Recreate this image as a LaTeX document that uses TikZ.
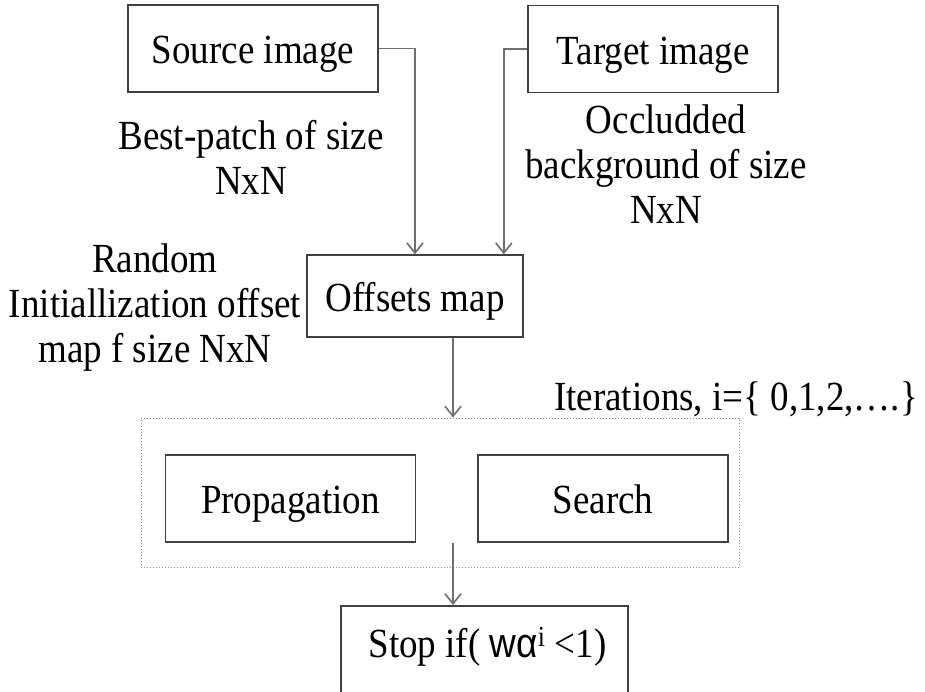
\documentclass[tikz,border=0pt]{standalone}
\usepackage{fontspec}
\setmainfont{Liberation Serif}
\newfontfamily\sansalt{Liberation Sans}
\usetikzlibrary{arrows.meta}
\definecolor{boxline}{HTML}{404040}
\definecolor{conline}{HTML}{6E6E6E}
\definecolor{dotline}{HTML}{8C8C8C}
\newcommand{\vst}[1]{\scalebox{1}[1.12]{#1}}
\begin{document}
\begin{tikzpicture}[x=1pt,y=-1pt,
  every node/.style={font=\fontsize{37}{45}\selectfont, inner sep=0pt},
  box/.style={draw=boxline, line width=1.6pt, minimum width=250pt, minimum height=87pt, text height=38pt, text depth=8pt},
  conn/.style={draw=conline, line width=1.6pt},
  arr/.style={conn, -{Straight Barb[length=10pt,width=16pt]}},
  lbl/.style={align=center}]
\useasboundingbox (0,0) rectangle (925,691);
\clip (0,0) rectangle (925,691);
\fill[white] (0,0) rectangle (925,691);

% boxes
\node[box] (src) at (253,48.5) {\vst{Source image}};
\node[box] (tgt) at (653,49) {\vst{Target image}};
\node[box, minimum width=216pt, minimum height=82pt] (off) at (415,296) {\vst{Offsets map}};
\node[draw=dotline, dotted, line width=1pt, minimum width=598pt, minimum height=149pt] (iter) at (440,492.5) {};
\node[box] (prop) at (290.5,498.5) {\vst{Propagation}};
\node[box] (srch) at (603,498.5) {\vst{Search}};
\node[box, minimum width=287pt, minimum height=110pt, anchor=north] (stop) at (484.5,605) {};
\node[anchor=base] (stoptxt) at (487.5,657) {\vst{Stop if( {\sansalt wα}\textsuperscript{i} <1)}};

% labels
\node[lbl] (bp) at (251,157) {\vst{Best-patch of size}\\\vst{NxN}};
\node[lbl] (occ) at (666,164.5) {\vst{Occludded}\\\vst{background of size}\\\vst{NxN}};
\node[lbl] (rnd) at (155,308) {\vst{Random}\\\vst{Initiallization offset}\\\vst{map f size NxN}};
\node[anchor=base] (itl) at (736,410) {\vst{Iterations, i=\{ 0,1,2,….\}}};

% connectors
\draw[arr] (src.east) -| (off.north);
\draw[arr] (tgt.west) -| ([xshift=-20pt]off.north east);
\draw[arr] ([xshift=38pt]off.south) -- ([xshift=38pt]off.south |- iter.north);
\coordinate (loopout) at (453,543);
\draw[arr] (loopout) -- (loopout |- stop.north);
\end{tikzpicture}
\end{document}
